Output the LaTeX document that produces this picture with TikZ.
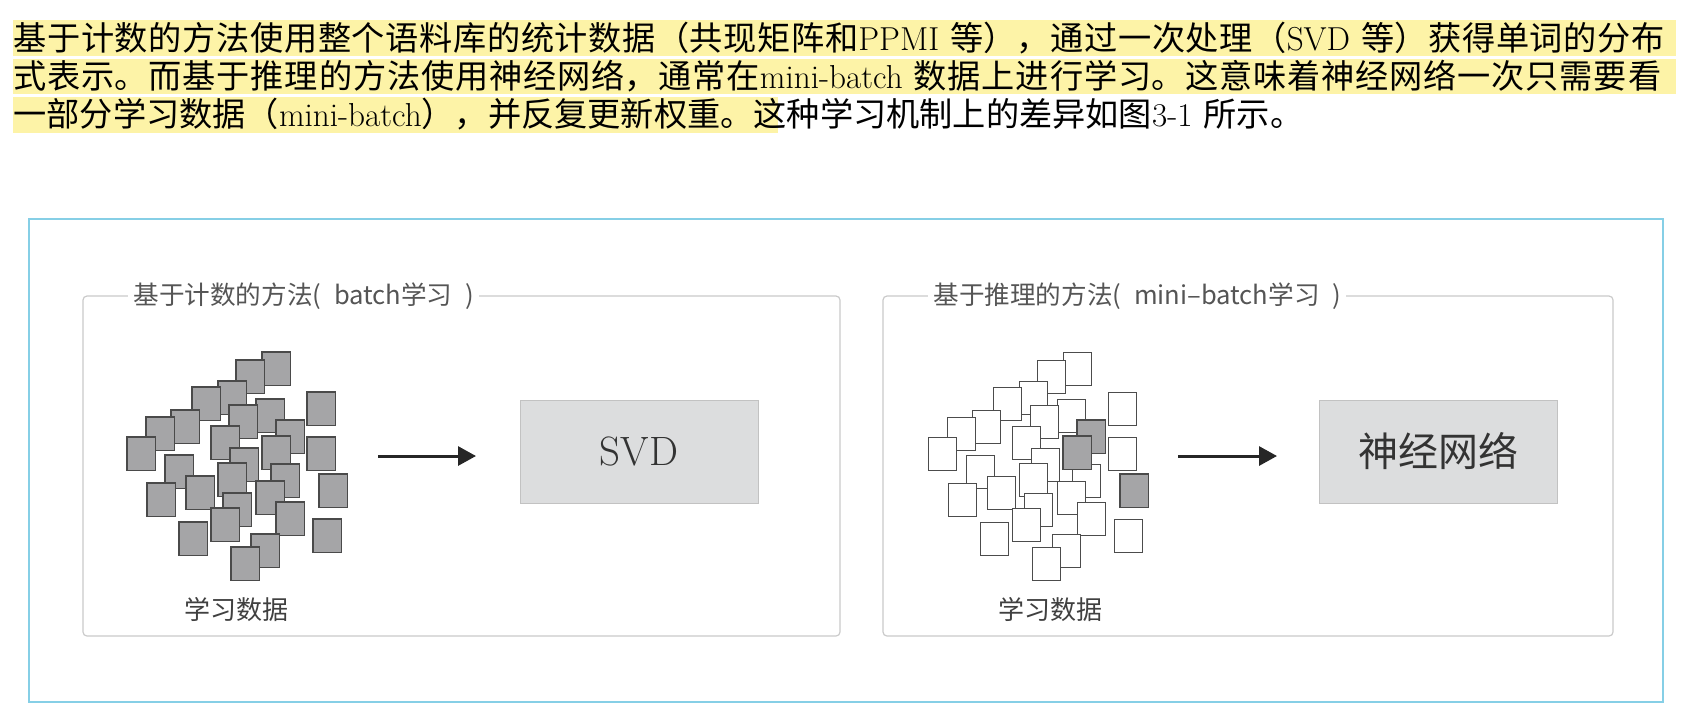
\documentclass[tikz,border=0pt]{standalone}
\usepackage{fontspec}
\newfontfamily\cjk{Noto Sans CJK SC}
\usetikzlibrary{arrows.meta,positioning}
\XeTeXlinebreaklocale "zh"
\XeTeXlinebreakskip=0pt plus 2pt
\definecolor{hilite}{HTML}{FDF3A7}
\definecolor{figblue}{HTML}{86CFE6}
\definecolor{panelgray}{HTML}{CACACA}
\definecolor{titlegray}{HTML}{555555}
\definecolor{sqgray}{HTML}{A5A5A7}
\definecolor{sqedge}{HTML}{4A4A4A}
\definecolor{boxgray}{HTML}{DCDDDE}
\definecolor{boxedge}{HTML}{C2C2C2}
\newcommand\sqspots{262/352,236/360,218/381,192/387,171/410,146/417,127/437,256/399,229/405,211/426,276/420,307/392,307/437,262/436,230/448,271/464,165/455,218/463,147/483,186/476,223/493,256/481,319/474,211/508,276/502,179/522,313/519,251/534,231/547}
\begin{document}
\begin{tikzpicture}[x=.5pt,y=-.5pt,
	hl/.style={fill=hilite},
	para/.style={anchor=base west,inner sep=0pt,text width=831pt,font=\cjk\fontsize{16.6}{19}\selectfont},
	panel/.style={draw=panelgray,line width=.6pt,rounded corners=2pt},
	paneltitle/.style={anchor=west,fill=white,inner xsep=2.5pt,inner ysep=1pt,text=titlegray,font=\cjk\fontsize{12.8}{14}\selectfont},
	leftsq/.style={fill=sqgray,draw=sqedge,line width=.7pt},
	rightsq/.style={fill=white,draw=black!70,line width=.5pt},
	algobox/.style={fill=boxgray,draw=boxedge,line width=.5pt,minimum width=119pt,minimum height=51.5pt,inner sep=0pt,text=black!80},
	flow/.style={line width=1.5pt,draw=black!85,-{Triangle[length=9pt,width=9.5pt]}},
	datalabel/.style={text=black!75,font=\cjk\fontsize{13}{15}\selectfont}]
	\useasboundingbox (0,0) rectangle (1684,720);

	\fill[hl] (13,20) rectangle (1676,55.5);
	\fill[hl] (13,58.5) rectangle (1676,94);
	\fill[hl] (13,97) rectangle (778,132.5);
	\node[para] (para) at (13,50.5) {基于计数的方法使用整个语料库的统计数据（共现矩阵和{\rmfamily PPMI} 等），通过一次处理（{\rmfamily SVD} 等）获得单词的分布\linebreak
		式表示。而基于推理的方法使用神经网络，通常在{\rmfamily mini-batch} 数据上进行学习。这意味着神经网络一次只需要看\linebreak
		一部分学习数据（{\rmfamily mini-batch}），并反复更新权重。这种学习机制上的差异如图{\rmfamily 3-1} 所示。};

	\draw[figblue,line width=1.3pt] (29,219) rectangle (1663,702);
	\draw[panel] (83,296) rectangle (840,636);
	\draw[panel] (883,296) rectangle (1613,636);
	\node[paneltitle] (cnttitle) at (128,296) {基于计数的方法(\hspace{.5em}batch学习\hspace{.5em})};
	\node[paneltitle] (inftitle) at (928,296) {基于推理的方法(\hspace{.5em}mini–batch学习\hspace{.5em})};

	\foreach \x/\y in \sqspots \filldraw[leftsq] (\x,\y) rectangle ++(28.5,33.5);
	\foreach \x/\y in \sqspots \filldraw[rightsq] (\x+801,\y) rectangle ++(28.5,33.5);
	\foreach \x/\y in {1077/420,1063/436,1120/474} \filldraw[leftsq] (\x,\y) rectangle ++(28.5,33.5);

	\node[datalabel] (cntdata) at (236,610) {学习数据};
	\node[datalabel] (infdata) at (1050,610) {学习数据};

	\node[algobox,font=\rmfamily\fontsize{20.5}{22}\selectfont] (svd) at (639,451.5) {SVD};
	\node[algobox,font=\cjk\fontsize{20}{22}\selectfont] (nn) at (1438.5,451.5) {神经网络};

	\coordinate (cntfrom) at (378,456);
	\coordinate (cntto) at (476,456);
	\coordinate (inffrom) at (1178,456);
	\coordinate (infto) at (1277,456);
	\draw[flow] (cntfrom) -- (cntto);
	\draw[flow] (inffrom) -- (infto);
\end{tikzpicture}
\end{document}
